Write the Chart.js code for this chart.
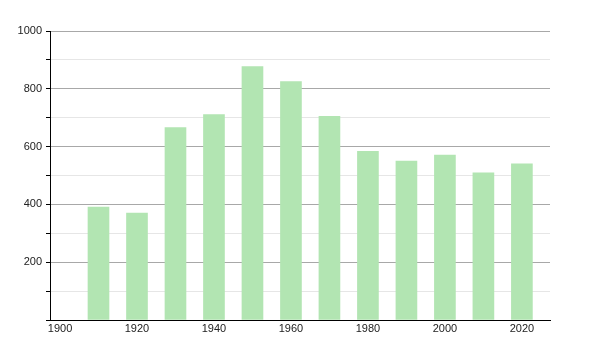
<!DOCTYPE html>
<html>
<head>
<meta charset="utf-8">
<script src="https://cdn.jsdelivr.net/npm/chart.js@4"></script>
<style>
	html, body { margin: 0; padding: 0; background: #fff; }
	#wrap { width: 600px; height: 350px; }
</style>
</head>
<body>
<div id="wrap"><canvas id="popChart" width="600" height="350"></canvas></div>
<script>
// census years and population counts
const years = [1910, 1920, 1930, 1940, 1950, 1960, 1970, 1980, 1990, 2000, 2010, 2020];
const population = [391, 370, 666, 711, 877, 825, 705, 584, 550, 571, 509, 540];
const xTicks = [1900, 1920, 1940, 1960, 1980, 2000, 2020];
const yLabelled = [200, 400, 600, 800, 1000];

document.addEventListener('DOMContentLoaded', function() {
	const ctx = document.getElementById('popChart').getContext('2d');

	new Chart(ctx, {
		type: 'bar',
		data: {
			datasets: [{
				data: years.map((y, i) => ({ x: y, y: population[i] })),
				backgroundColor: '#b2e5b2',
				borderWidth: 0,
				barThickness: 21
			}]
		},
		options: {
			responsive: false,
			animation: false,
			layout: { padding: { top: 31, right: 50, left: 0, bottom: 0 } },
			plugins: { legend: { display: false }, tooltip: { enabled: false } },
			scales: {
				x: {
					type: 'linear',
					offset: false,
					min: 1897.4,
					max: 2027.3,
					afterBuildTicks: function(scale) {
						scale.ticks = xTicks.map(v => ({ value: v }));
					},
					afterFit: function(scale) { scale.height = 30; },
					grid: { display: false, drawTicks: false },
					border: { color: '#000', width: 1 },
					ticks: {
						color: '#222',
						font: { family: 'Liberation Sans', size: 11 },
						padding: 2,
						maxRotation: 0,
						autoSkip: false,
						callback: v => String(v)
					}
				},
				y: {
					min: 0,
					max: 1000,
					afterFit: function(scale) { scale.width = 50; },
					border: { color: '#000', width: 1 },
					grid: {
						color: c => (c.tick.value % 200 === 0 ? '#a8a8a8' : '#e6e6e6'),
						tickColor: '#000',
						tickLength: 4
					},
					ticks: {
						stepSize: 100,
						color: '#222',
						padding: 4,
						font: { family: 'Liberation Sans', size: 11 },
						callback: v => (yLabelled.includes(v) ? String(v) : '')
					}
				}
			}
		}
	});
});
</script>
</body>
</html>
